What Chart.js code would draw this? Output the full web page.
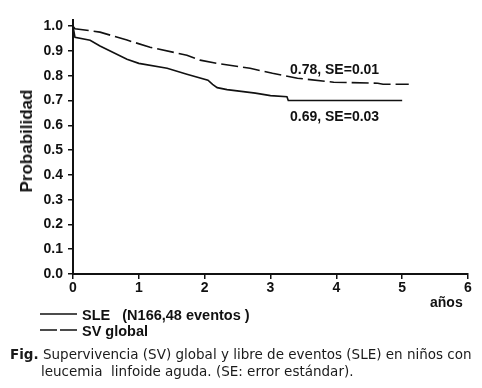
<!DOCTYPE html>
<html>
<head>
<meta charset="utf-8">
<script src="https://cdn.jsdelivr.net/npm/chart.js@4"></script>
<style>
  body { margin: 0; background: #fff; }
  #wrap { position: relative; width: 482px; height: 388px; overflow: hidden; }
  canvas { position: absolute; left: 0; top: 0; }
  .t { position: absolute; font-family: "Liberation Sans", Arial, sans-serif; font-weight: bold; color: #111; white-space: pre; }
  .cap { position: absolute; font-family: "DejaVu Sans", Verdana, sans-serif; font-size: 13.5px; line-height: 16px; color: #1a1a1a; white-space: pre; }
</style>
</head>
<body>
<div id="wrap">
  <canvas id="km" width="482" height="388"></canvas>
  <div class="t" id="ylabel" style="left:27px; top:141px; font-size:17px; transform: translate(-50%,-50%) rotate(-90deg);">Probabilidad</div>
  <div class="t" style="left:430px; top:294px; font-size:14px;">años</div>
  <div class="t" style="left:290px; top:61px; font-size:14px;">0.78, SE=0.01</div>
  <div class="t" style="left:290px; top:108px; font-size:14px;">0.69, SE=0.03</div>
  <svg style="position:absolute; left:0; top:0;" width="482" height="388">
    <line x1="40" y1="314" x2="77" y2="314" stroke="#111" stroke-width="1.5"/>
    <line x1="40" y1="330" x2="77" y2="330" stroke="#111" stroke-width="1.5" stroke-dasharray="17,3"/>
  </svg>
  <div class="t" style="left:82px; top:307px; font-size:14.5px;">SLE   (N166,48 eventos )</div>
  <div class="t" style="left:82px; top:323px; font-size:14.5px;">SV global</div>
  <div class="cap" style="left:10px; top:346px;"><b>Fig.</b> Supervivencia (SV) global y libre de eventos (SLE) en niños con</div>
  <div class="cap" style="left:41px; top:363px;">leucemia  linfoide aguda. (SE: error estándar).</div>
</div>
<script>
// SLE (supervivencia libre de eventos)
const sleYears = [0, 0.03, 0.26, 0.41, 0.82, 1.0, 1.43, 1.73, 2.05, 2.12, 2.19, 2.34, 2.77, 3.0, 3.25, 3.27, 5.0];
const sleValues = [1.0, 0.955, 0.943, 0.92, 0.867, 0.85, 0.83, 0.806, 0.782, 0.765, 0.752, 0.744, 0.73, 0.72, 0.715, 0.70, 0.70];

// SV global
const svYears = [0, 0.03, 0.41, 0.82, 1.17, 1.73, 1.93, 2.19, 2.69, 3.03, 3.41, 3.96, 4.63, 4.71, 5.1];
const svValues = [1.0, 0.99, 0.976, 0.944, 0.915, 0.883, 0.863, 0.85, 0.83, 0.81, 0.79, 0.774, 0.77, 0.766, 0.766];

const xTicks = [0, 1, 2, 3, 4, 5, 6];
const yTicks = [0, 0.1, 0.2, 0.3, 0.4, 0.5, 0.6, 0.7, 0.8, 0.9, 1.0];

function toPoints(xs, ys) {
  return xs.map((x, i) => ({ x: x, y: ys[i] }));
}

const tickFont = { family: "'Liberation Sans', Arial, sans-serif", size: 14, weight: "bold" };

new Chart(document.getElementById("km"), {
  type: "line",
  data: {
    datasets: [
      {
        label: "SLE",
        data: toPoints(sleYears, sleValues),
        borderColor: "#111",
        borderWidth: 1.6,
        pointRadius: 0,
        tension: 0,
      },
      {
        label: "SV global",
        data: toPoints(svYears, svValues),
        borderColor: "#111",
        borderWidth: 1.6,
        borderDash: [17, 5],
        pointRadius: 0,
        tension: 0,
      },
    ],
  },
  options: {
    responsive: false,
    animation: false,
    layout: { padding: { top: 20, right: 14, left: 0, bottom: 0 } },
    plugins: { legend: { display: false }, tooltip: { enabled: false } },
    scales: {
      x: {
        type: "linear",
        min: 0,
        max: 6,
        afterBuildTicks: (axis) => { axis.ticks = xTicks.map((v) => ({ value: v })); },
        afterFit: (axis) => { axis.height = 114; },
        border: { color: "#111", width: 2 },
        grid: { drawOnChartArea: false, color: "#111", tickLength: 5, lineWidth: 1.5 },
        ticks: { color: "#111", font: tickFont, padding: 1, maxRotation: 0 },
      },
      y: {
        min: 0,
        max: 1.025,
        afterBuildTicks: (axis) => { axis.ticks = yTicks.map((v) => ({ value: v })); },
        afterFit: (axis) => { axis.width = 73; },
        border: { color: "#111", width: 2 },
        grid: { drawOnChartArea: false, color: "#111", tickLength: 5, lineWidth: 1.5 },
        ticks: { color: "#111", font: tickFont, padding: 5, callback: (v) => v.toFixed(1) },
      },
    },
  },
});
</script>
</body>
</html>
